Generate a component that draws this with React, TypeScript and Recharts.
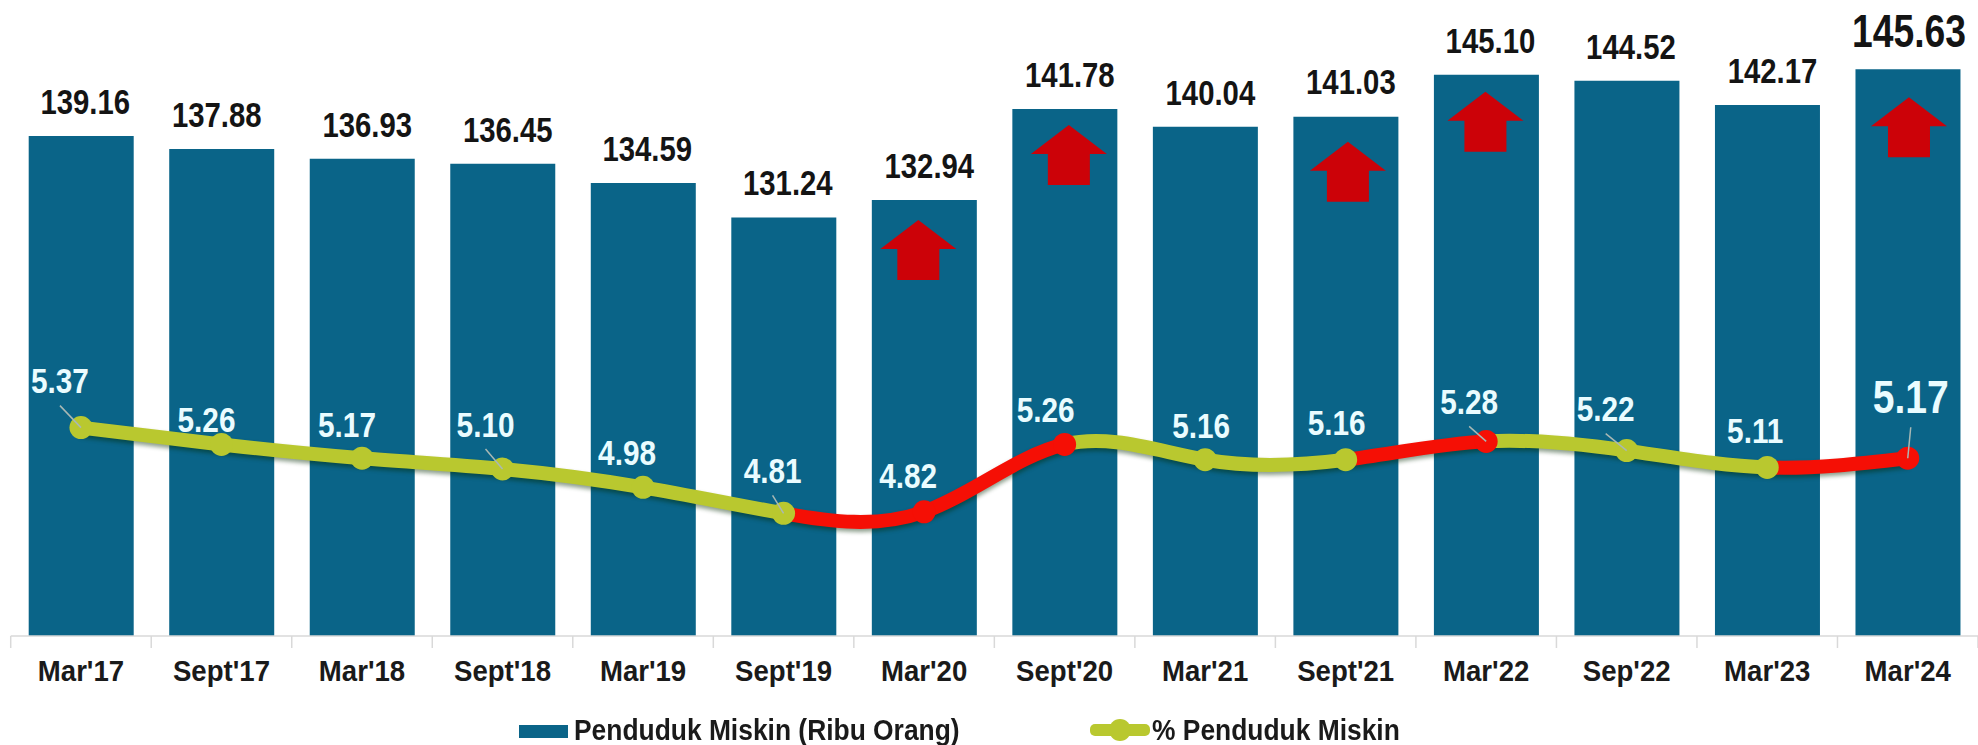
import { Bar, ComposedChart, LabelList, Legend, Line, XAxis, YAxis } from 'recharts';

const periods = ["Mar'17", "Sept'17", "Mar'18", "Sept'18", "Mar'19", "Sept'19", "Mar'20", "Sept'20", "Mar'21", "Sept'21", "Mar'22", "Sep'22", "Mar'23", "Mar'24"];
const poorPeople = [139.16, 137.88, 136.93, 136.45, 134.59, 131.24, 132.94, 141.78, 140.04, 141.03, 145.1, 144.52, 142.17, 145.63];
const poorPercent = [5.37, 5.26, 5.17, 5.1, 4.98, 4.81, 4.82, 5.26, 5.16, 5.16, 5.28, 5.22, 5.11, 5.17];

// label nudges, the source slide had these placed by hand
const barLabelDx = [4, -5, 5, 5, 4, 4, 5, 5, 5, 5, 4, 4, 5, 1];
const pctLabelDx = [-21, -15, -15, -17, -16, -11, -16, -19, -4, -9, -17, -21, -12, 3];
const pctLabelDy = [-46, -24, -33, -44, -34, -42, -36, -34, -34, -37, -39, -41, -36, -61];
const leaderLines = [0, 3, 5, 10, 11, 13];
const arrowPlace: Record<number, [number, number]> = { 6: [-6, 20], 7: [4, 16], 9: [2, 25], 10: [-1, 17], 13: [1, 28] };

const data = periods.map((period, i) => ({ period, poorPeople: poorPeople[i], poorPercent: poorPercent[i] }));

const BAR = '#0a6488';
const GREEN = '#b9c82f';
const RED = '#f50f05';
const FONT = '"Liberation Sans", sans-serif';
const WIDTH = 1978;
const HEIGHT = 745;
const MARGIN = { top: 50, right: 0, bottom: 69, left: 10.7 };
const BAND = (WIDTH - MARGIN.left - MARGIN.right) / periods.length;
const LAST = periods.length - 1;

const isRise = (i: number) => i > 0 && poorPercent[i] > poorPercent[i - 1];

// no narrow font installed, so squeeze the regular one
const NarrowText = ({ x, y, squeeze, size, fill, children }: any) => (
  <text
    transform={`translate(${x} ${y}) scale(${squeeze} 1)`}
    textAnchor="middle"
    dominantBaseline="central"
    fontFamily={FONT}
    fontWeight={700}
    fontSize={size}
    fill={fill}
  >
    {children}
  </text>
);

const BarValue = ({ x, y, width, index, value }: any) => {
  const big = index === LAST;
  return (
    <NarrowText x={x + width / 2 + barLabelDx[index]} y={y - (big ? 38 : 34)} squeeze={big ? 0.81 : 0.85} size={big ? 46 : 34.5} fill="#141414">
      {value.toFixed(2)}
    </NarrowText>
  );
};

const UpArrow = ({ x, y, width, index }: any) => {
  const place = arrowPlace[index];
  if (!place) return null;
  const cx = x + width / 2 + place[0];
  const top = y + place[1];
  return (
    <polygon
      fill="#cc0208"
      points={`${cx},${top} ${cx + 38},${top + 29} ${cx + 21},${top + 29} ${cx + 21},${top + 60} ${cx - 21},${top + 60} ${cx - 21},${top + 29} ${cx - 38},${top + 29}`}
    />
  );
};

const PercentValue = ({ x, y, index, value }: any) => {
  const big = index === LAST;
  const lx = x + pctLabelDx[index];
  const ly = y + pctLabelDy[index];
  return (
    <g>
      {leaderLines.includes(index) && (
        <line x1={lx} y1={ly + (big ? 30 : 24)} x2={x} y2={y} stroke="#a9b8b4" strokeWidth={1.5} />
      )}
      <NarrowText x={lx} y={ly} squeeze={0.85} size={big ? 46 : 35} fill="#eafcff">
        {value.toFixed(2)}
      </NarrowText>
    </g>
  );
};

const PointDot = ({ cx, cy, index }: any) => (
  <circle key={index} cx={cx} cy={cy} r={11.5} fill={isRise(index) ? RED : GREEN} />
);

const AxisTick = ({ x, y, payload, index }: any) => (
  <g>
    <line x1={x - BAND / 2} y1={y - 8} x2={x - BAND / 2} y2={y + 4} stroke="#d9d9d9" strokeWidth={1.5} />
    {index === LAST && <line x1={x + BAND / 2} y1={y - 8} x2={x + BAND / 2} y2={y + 4} stroke="#d9d9d9" strokeWidth={1.5} />}
    <NarrowText x={x} y={y + 27} squeeze={0.92} size={30} fill="#1a1a1a">
      {payload.value}
    </NarrowText>
  </g>
);

const legendText: any = {
  position: 'absolute',
  top: 713,
  fontFamily: FONT,
  fontWeight: 700,
  fontSize: 29,
  lineHeight: '34px',
  color: '#1a1a1a',
  whiteSpace: 'nowrap',
  transform: 'scaleX(0.91)',
  transformOrigin: 'left center',
};

const ChartLegend = ({ payload }: any) => {
  const names = (payload || []).map((p: any) => p.value);
  return (
    <div style={{ position: 'relative', width: WIDTH, height: HEIGHT }}>
      <div style={{ position: 'absolute', left: 519, top: 725, width: 49, height: 13, background: BAR }} />
      <span style={{ ...legendText, left: 574 }}>{names[0]}</span>
      <div style={{ position: 'absolute', left: 1090, top: 724, width: 60, height: 12, borderRadius: 5, background: GREEN }} />
      <div style={{ position: 'absolute', left: 1109, top: 719, width: 22, height: 22, borderRadius: '50%', background: GREEN }} />
      <span style={{ ...legendText, left: 1152 }}>{names[1]}</span>
    </div>
  );
};

export default function App() {
  return (
    <div style={{ position: 'absolute', left: 0, top: 0, width: WIDTH, height: HEIGHT, background: '#fff', overflow: 'hidden' }}>
      <ComposedChart width={WIDTH} height={HEIGHT} data={data} margin={MARGIN}>
        <defs>
          <linearGradient id="riseFall" x1="0" y1="0" x2="1" y2="0">
            {periods.slice(1).flatMap((_, i) => [
              <stop key={`a${i}`} offset={i / LAST} stopColor={isRise(i + 1) ? RED : GREEN} />,
              <stop key={`b${i}`} offset={(i + 1) / LAST} stopColor={isRise(i + 1) ? RED : GREEN} />,
            ])}
          </linearGradient>
        </defs>
        <XAxis dataKey="period" height={40} interval={0} tickLine={false} axisLine={{ stroke: '#d9d9d9', strokeWidth: 1.5 }} tick={<AxisTick />} />
        <YAxis yAxisId="people" hide domain={[90.6, 147.5]} />
        <YAxis yAxisId="percent" hide orientation="right" domain={[4.008, 7.838]} />
        <Legend verticalAlign="middle" itemSorter={null} wrapperStyle={{ left: 0, top: 0, width: WIDTH, height: HEIGHT }} content={<ChartLegend />} />
        <Bar yAxisId="people" dataKey="poorPeople" name="Penduduk Miskin (Ribu Orang)" fill={BAR} barSize={105} isAnimationActive={false}>
          <LabelList dataKey="poorPeople" content={<BarValue />} />
          <LabelList dataKey="poorPeople" content={<UpArrow />} />
        </Bar>
        <Line
          yAxisId="percent"
          dataKey="poorPercent"
          name="% Penduduk Miskin"
          type="natural"
          stroke="url(#riseFall)"
          strokeWidth={14}
          dot={<PointDot />}
          activeDot={false}
          isAnimationActive={false}
          style={{ filter: 'drop-shadow(0 3px 2px rgba(0,40,0,0.45))' }}
        >
          <LabelList dataKey="poorPercent" content={<PercentValue />} />
        </Line>
      </ComposedChart>
    </div>
  );
}
